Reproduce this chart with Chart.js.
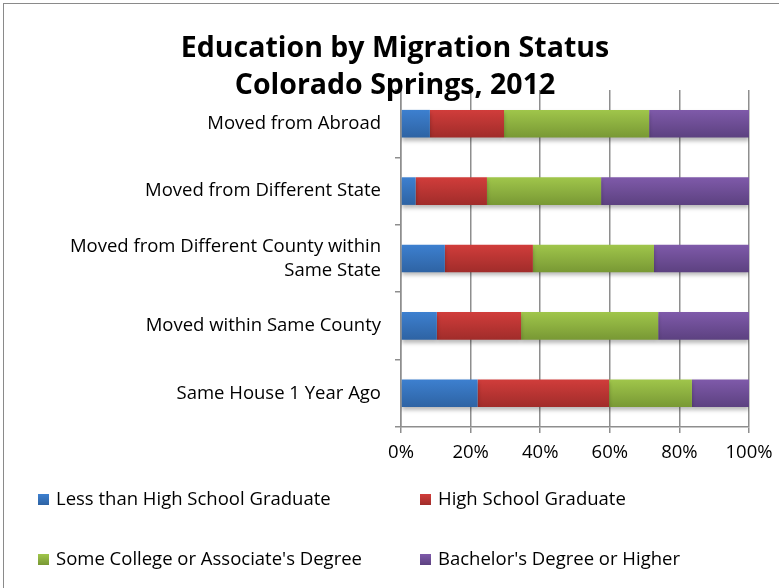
<!DOCTYPE html>
<html>
<head>
<meta charset="utf-8">
<script src="https://cdn.jsdelivr.net/npm/chart.js@4/dist/chart.umd.min.js"></script>
<style>
    body { margin: 0; background: #fff; }
    #wrap { position: relative; width: 779px; height: 588px; overflow: hidden; background: #fff; }
    #frame { position: absolute; left: 3px; top: 3px; width: 820px; height: 620px; border: 1px solid #8a8a8a; }
    #title { position: absolute; left: 0; top: 28px; width: 790px; text-align: center;
             font-family: 'Open Sans', sans-serif; font-weight: bold; font-size: 28.5px; line-height: 37px; color: #000; z-index: 2; }
    canvas { position: absolute; left: 0; top: 0; }
    .leg { position: absolute; font-family: 'Open Sans', sans-serif; font-size: 18.5px; color: #000; white-space: nowrap; line-height: 20px; }
    .leg span { display: inline-block; width: 11px; height: 11px; margin-right: 7px; vertical-align: 0px; }
</style>
</head>
<body>
<div id="wrap">
    <div id="frame"></div>
    <canvas id="eduChart" width="779" height="588"></canvas>
    <div id="title">Education by Migration Status<br>Colorado Springs, 2012</div>
    <div id="legend"></div>
</div>
<script>
const categories = [
    'Moved from Abroad',
    'Moved from Different State',
    ['Moved from Different County within', 'Same State'],
    'Moved within Same County',
    'Same House 1 Year Ago'
];
const seriesNames = ['Less than High School Graduate', 'High School Graduate', "Some College or Associate's Degree", "Bachelor's Degree or Higher"];
const lessThanHS = [8.3, 4.2, 12.6, 10.3, 22.0];
const hsGraduate = [21.3, 20.5, 25.3, 24.2, 37.8];
const someCollege = [41.7, 32.8, 34.8, 39.4, 23.8];
const bachelors = [28.7, 42.5, 27.3, 26.1, 16.4];
const xTicks = [0, 20, 40, 60, 80, 100];

const colorTop = ['#3d80d0', '#d13d3b', '#a0c64b', '#7f5aaa'];
const colorBottom = ['#2e63a3', '#a02c2a', '#789834', '#5c4180'];

function barGradient(i) {
    return function(ctx) {
        const chart = ctx.chart;
        const yScale = chart.scales.y;
        if (!yScale || ctx.dataIndex === undefined) return colorTop[i];
        const yc = yScale.getPixelForValue(ctx.dataIndex);
        if (!isFinite(yc)) return colorTop[i];
        const g = chart.ctx.createLinearGradient(0, yc - 14, 0, yc + 14);
        g.addColorStop(0, colorTop[i]);
        g.addColorStop(1, colorBottom[i]);
        return g;
    };
}

const allSeries = [lessThanHS, hsGraduate, someCollege, bachelors];

const barShadow = {
    id: 'barShadow',
    beforeDatasetsDraw(chart) {
        const c = chart.ctx;
        c.save();
        c.shadowColor = 'rgba(0,0,0,0.28)';
        c.shadowBlur = 4;
        c.shadowOffsetY = 3;
    },
    afterDatasetsDraw(chart) {
        chart.ctx.restore();
    }
};

const gridColor = '#8e8e8e';
const font = { family: "'Open Sans', sans-serif", size: 18.5 };

const ctx = document.getElementById('eduChart').getContext('2d');
const eduChart = new Chart(ctx, {
    type: 'bar',
    data: {
        labels: categories,
        datasets: allSeries.map((vals, i) => ({
            label: seriesNames[i],
            data: vals,
            backgroundColor: barGradient(i),
            borderWidth: 0,
            barPercentage: 0.41,
            categoryPercentage: 1
        }))
    },
    options: {
        indexAxis: 'y',
        responsive: false,
        animation: false,
        layout: { padding: { top: 90, right: 30, bottom: 120, left: 0 } },
        plugins: {
            legend: { display: false },
            title: { display: false },
            tooltip: { enabled: false }
        },
        scales: {
            x: {
                stacked: true,
                min: 0,
                max: 100,
                afterBuildTicks: scale => { scale.ticks = xTicks.map(v => ({ value: v })); },
                afterFit: scale => {
                    scale.height = 41;
                    scale.paddingLeft = 0;
                    scale.paddingRight = 0;
                },
                ticks: {
                    callback: v => v + '%',
                    color: '#000',
                    font: font,
                    padding: 9,
                    maxRotation: 0
                },
                grid: { color: gridColor, lineWidth: 1.5, tickLength: 6 },
                border: { color: gridColor, width: 1.5 }
            },
            y: {
                stacked: true,
                afterFit: scale => { scale.width = 401; },
                ticks: {
                    color: '#000',
                    font: Object.assign({ lineHeight: 1.3 }, font),
                    padding: 14
                },
                grid: { drawOnChartArea: false, color: gridColor, lineWidth: 1.5, tickLength: 6, offset: true },
                border: { color: gridColor, width: 1.5 }
            }
        }
    },
    plugins: [barShadow]
});

// legend in two columns, like the original
const legendCols = [38, 420];
const legendRows = [488, 548];
const legendEl = document.getElementById('legend');
seriesNames.forEach((name, i) => {
    const d = document.createElement('div');
    d.className = 'leg';
    d.style.left = legendCols[i % 2] + 'px';
    d.style.top = legendRows[Math.floor(i / 2)] + 'px';
    d.innerHTML = '<span style="background:linear-gradient(' + colorTop[i] + ',' + colorBottom[i] + ')"></span>' + name;
    legendEl.appendChild(d);
});
</script>
</body>
</html>
